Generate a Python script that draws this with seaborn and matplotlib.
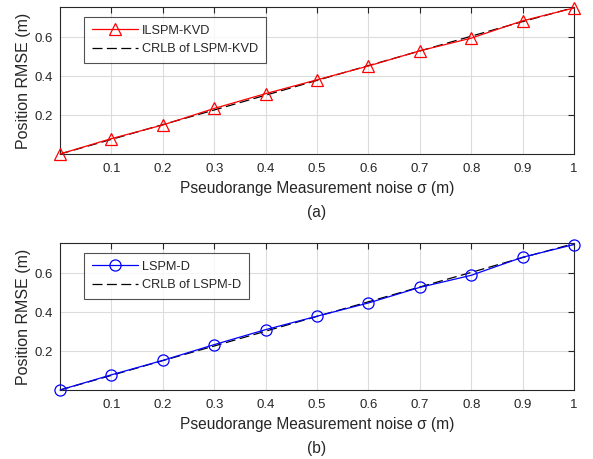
import numpy as np
import pandas as pd
import matplotlib
matplotlib.use("Agg")
import matplotlib.pyplot as plt
import seaborn as sns

sigma = [0.0, 0.1, 0.2, 0.3, 0.4, 0.5, 0.6, 0.7, 0.8, 0.9, 1.0]
ilspm_kvd = [0.0, 0.079, 0.149, 0.234, 0.310, 0.381, 0.452, 0.530, 0.595, 0.684, 0.750]
crlb_kvd = [0.0, 0.075, 0.151, 0.226, 0.302, 0.378, 0.454, 0.529, 0.605, 0.680, 0.752]
lspm_d = [0.0, 0.078, 0.152, 0.233, 0.310, 0.379, 0.447, 0.527, 0.589, 0.682, 0.747]
crlb_d = [0.0, 0.075, 0.151, 0.226, 0.302, 0.378, 0.453, 0.529, 0.604, 0.680, 0.752]
xticks = [0.1, 0.2, 0.3, 0.4, 0.5, 0.6, 0.7, 0.8, 0.9, 1.0]
xticklabels = ["0.1", "0.2", "0.3", "0.4", "0.5", "0.6", "0.7", "0.8", "0.9", "1"]
yticks = [0.2, 0.4, 0.6]
yticklabels = ["0.2", "0.4", "0.6"]

sns.set_style("white")
plt.rcParams['font.family'] = ['Liberation Sans', 'DejaVu Sans']
plt.rcParams['font.size'] = 9.5
txt = '#262626'

W, H = 593, 459
fig = plt.figure(figsize=(W / 100, H / 100), dpi=100)

def make_ax(top, bottom):
    return fig.add_axes([60 / W, 1 - bottom / H, (574 - 60) / W, (bottom - top) / H])

panels = [
    (make_ax(7, 154), ilspm_kvd, crlb_kvd, 'ILSPM-KVD', 'CRLB of LSPM-KVD', 'red', '^', '(a)'),
    (make_ax(243, 390), lspm_d, crlb_d, 'LSPM-D', 'CRLB of LSPM-D', 'blue', 'o', '(b)'),
]

for ax, est, crlb, lab1, lab2, col, mk, tag in panels:
    df1 = pd.DataFrame({'sigma': sigma, 'rmse': est})
    df2 = pd.DataFrame({'sigma': sigma, 'rmse': crlb})
    sns.lineplot(data=df1, x='sigma', y='rmse', ax=ax, color=col, lw=0.9,
                 marker=mk, markersize=8, markerfacecolor='none',
                 markeredgecolor=col, markeredgewidth=0.9, label=lab1, zorder=3,
                 clip_on=False)
    sns.lineplot(data=df2, x='sigma', y='rmse', ax=ax, color='black', lw=0.9,
                 linestyle=(0, (8, 3.5)), label=lab2, zorder=2)
    ax.set_xlim(0, 1)
    ax.set_ylim(0, 0.755)
    ax.set_xticks(xticks)
    ax.set_xticklabels(xticklabels)
    ax.set_yticks(yticks)
    ax.set_yticklabels(yticklabels)
    ax.grid(True, color='#dcdcdc', lw=0.8)
    ax.set_axisbelow(True)
    ax.tick_params(direction='in', length=4, colors=txt, labelsize=9.5, top=True, right=True,
                   labelcolor=txt)
    ax.tick_params(axis='x', pad=6.5)
    ax.tick_params(axis='y', pad=5)
    for s in ax.spines.values():
        s.set_visible(True)
        s.set_color(txt)
        s.set_linewidth(0.8)
    ax.set_xlabel('Pseudorange Measurement noise σ (m)', color=txt, fontsize=11.2, labelpad=4)
    ax.set_ylabel('Position RMSE (m)', color=txt, fontsize=11.5, labelpad=2.5)
    leg = ax.legend(loc='upper left', bbox_to_anchor=(0.047, 0.932), frameon=True,
                    fancybox=False, edgecolor=txt, fontsize=9.2, handlelength=3.6,
                    borderaxespad=0, borderpad=0.6, labelspacing=0.5, handletextpad=0.35)
    leg.get_frame().set_linewidth(0.8)
    for t in leg.get_texts():
        t.set_color(txt)
    ax.text(0.5, -0.395, tag, transform=ax.transAxes, ha='center', va='center',
            color=txt, fontsize=11.2)

fig.savefig('out.png', dpi=100)
